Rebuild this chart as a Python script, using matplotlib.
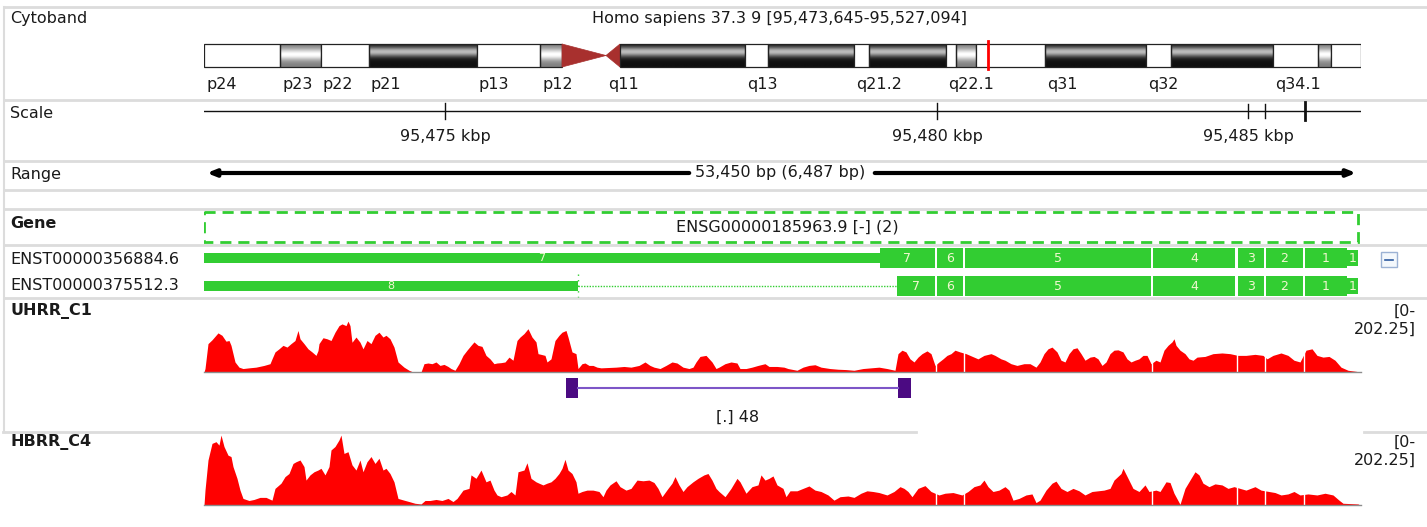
import numpy as np
import matplotlib
matplotlib.use("Agg")
import matplotlib.pyplot as plt
from matplotlib.patches import Rectangle, Polygon

W, H = 1427, 527
X0, XW = 204, 1157  # pixel column used by the tracks

# ---- data (positions are in view units along the track column) ----
title = "Homo sapiens 37.3 9 [95,473,645-95,527,094]"

band_names = ["p24", "p23", "p22", "p21", "p13", "p12", "p11", "q11", "q12", "q13",
              "q21.1", "q21.2", "q21.3", "q22.1", "q22.2", "q22.3", "q31", "q32",
              "q33", "q34.1", "q34.2", "q34.3"]
band_starts = [0, 76, 117, 165, 273, 336, 358, 402, 416, 541, 564, 650, 665, 742,
               752, 772, 841, 942, 967, 1069, 1114, 1127]
band_ends = [76, 117, 165, 273, 336, 358, 402, 416, 541, 564, 650, 665, 742, 752,
             772, 841, 942, 967, 1069, 1114, 1127, 1157]
band_stains = ["gneg", "gpos25", "gneg", "gpos100", "gneg", "gpos25", "acen", "acen",
               "gpos100", "gneg", "gpos100", "gneg", "gpos100", "gneg", "gpos25",
               "gneg", "gpos100", "gneg", "gpos100", "gneg", "gpos25", "gneg"]
shown_bands = ["p24", "p23", "p22", "p21", "p13", "p12", "q11", "q13", "q21.2",
               "q22.1", "q31", "q32", "q34.1"]
view_marker = 784

scale_ticks = [241, 733, 1044, 1061, 1101]
scale_labels = {241: "95,475 kbp", 733: "95,480 kbp", 1044: "95,485 kbp"}
range_text = "53,450 bp (6,487 bp)"
gene_name = "ENSG00000185963.9 [-] (2)"

tx_names = ["ENST00000356884.6", "ENST00000375512.3"]
tx1_exons = [(0, 731, "7"), (733, 759, "6"), (761, 947, "5"), (949, 1031, "4"),
             (1034, 1060, "3"), (1062, 1099, "2"), (1101, 1154, "1")]
tx1_cds = (676, 1143)
tx2_exons = [(0, 374, "8"), (693, 731, "7"), (733, 759, "6"), (761, 947, "5"),
             (949, 1031, "4"), (1034, 1060, "3"), (1062, 1099, "2"), (1101, 1154, "1")]
tx2_cds = (693, 1143)

cov_max = 202.25
uhrr_profile = [
    (0, 0), (1, 10), (4, 82), (8, 93), (14, 113), (18, 106), (22, 89), (25, 91), (27, 77),
    (29, 53), (31, 29), (35, 14), (39, 10), (45, 12), (52, 14), (60, 19), (66, 24), (68, 38),
    (71, 58), (75, 67), (79, 77), (83, 72), (87, 82), (91, 91), (94, 120), (96, 96),
    (100, 82), (104, 67), (108, 58), (112, 48), (114, 62), (115, 82), (119, 99), (123, 96),
    (127, 91), (131, 115), (135, 134), (138, 139), (142, 134), (144, 147), (146, 134),
    (148, 86), (152, 101), (156, 86), (159, 67), (163, 91), (167, 82), (171, 106),
    (175, 115), (179, 101), (182, 106), (186, 96), (190, 72), (194, 29), (200, 14),
    (205, 5), (209, 0), (217, 0), (220, 24), (224, 26), (228, 24), (232, 29), (236, 19),
    (240, 22), (244, 16), (247, 10), (251, 5), (255, 24), (259, 48), (263, 63), (267, 77),
    (270, 87), (274, 77), (278, 74), (282, 48), (286, 38), (290, 24), (293, 26), (297, 27),
    (301, 29), (305, 43), (309, 34), (313, 91), (316, 101), (320, 111), (324, 125),
    (328, 101), (332, 87), (334, 53), (337, 51), (341, 48), (343, 29), (347, 38), (351, 91),
    (355, 106), (358, 115), (362, 120), (364, 101), (368, 58), (372, 53), (374, 10),
    (378, 24), (381, 26), (385, 19), (389, 19), (393, 14), (397, 12), (412, 14), (420, 16),
    (427, 14), (435, 19), (441, 29), (446, 19), (450, 14), (456, 10), (462, 19), (468, 29),
    (473, 26), (479, 14), (485, 10), (489, 14), (492, 29), (496, 45), (502, 48), (508, 29),
    (512, 10), (515, 14), (521, 24), (527, 29), (533, 26), (536, 10), (542, 10), (548, 14),
    (554, 19), (561, 24), (565, 16), (573, 16), (580, 14), (584, 10), (593, 5), (599, 14),
    (605, 19), (611, 21), (617, 14), (626, 10), (634, 8), (642, 7), (650, 5), (659, 10),
    (667, 12), (675, 14), (683, 10), (691, 5), (694, 53), (698, 63), (702, 58), (706, 38),
    (710, 29), (714, 43), (718, 53), (723, 61), (727, 53), (731, 19), (735, 29), (739, 38),
    (743, 48), (747, 53), (751, 63), (756, 58), (762, 53), (766, 48), (770, 43), (774, 38),
    (780, 48), (787, 53), (791, 48), (797, 38), (801, 34), (807, 24), (813, 19), (820, 24),
    (826, 24), (832, 14), (836, 29), (840, 53), (844, 67), (848, 72), (853, 58), (857, 34),
    (861, 29), (865, 53), (869, 67), (873, 70), (877, 53), (881, 34), (886, 43), (890, 45),
    (894, 38), (898, 19), (902, 29), (906, 53), (910, 63), (914, 64), (919, 58), (923, 38),
    (927, 29), (931, 34), (935, 38), (939, 48), (943, 48), (947, 24), (952, 34), (956, 29),
    (960, 63), (964, 77), (968, 87), (970, 96), (972, 77), (976, 63), (981, 53), (985, 38),
    (989, 34), (993, 43), (1001, 45), (1009, 53), (1018, 55), (1026, 53), (1034, 48),
    (1042, 48), (1051, 51), (1059, 48), (1063, 38), (1069, 48), (1077, 55), (1084, 48),
    (1090, 34), (1096, 29), (1102, 63), (1108, 67), (1113, 48), (1119, 43), (1125, 45),
    (1131, 34), (1137, 14), (1144, 5), (1152, 2), (1156, 0),
]
hbrr_profile = [
    (0, 0), (1, 43), (4, 130), (8, 178), (12, 183), (15, 173), (17, 202), (20, 169),
    (24, 144), (27, 140), (29, 111), (33, 77), (36, 43), (39, 19), (45, 13), (50, 16),
    (56, 22), (62, 22), (68, 14), (71, 48), (77, 63), (81, 82), (85, 91), (89, 120),
    (92, 125), (96, 130), (100, 111), (102, 72), (106, 87), (110, 96), (114, 101),
    (117, 106), (121, 87), (125, 111), (127, 159), (131, 169), (135, 188), (137, 202),
    (140, 149), (144, 154), (148, 116), (152, 101), (156, 130), (159, 96), (163, 125),
    (167, 140), (171, 120), (175, 135), (179, 101), (182, 106), (186, 91), (190, 67),
    (194, 19), (200, 14), (205, 10), (211, 5), (217, 3), (221, 13), (226, 13), (232, 16),
    (238, 13), (244, 19), (249, 10), (253, 19), (259, 43), (265, 48), (267, 87), (272, 77),
    (277, 101), (282, 67), (286, 72), (290, 43), (293, 29), (297, 24), (303, 29), (307, 39),
    (311, 29), (314, 96), (320, 101), (323, 122), (327, 77), (332, 67), (335, 63),
    (339, 58), (343, 63), (347, 67), (351, 77), (355, 91), (358, 106), (361, 132),
    (364, 101), (368, 91), (372, 67), (374, 34), (378, 39), (383, 43), (389, 43), (395, 39),
    (399, 24), (402, 43), (406, 58), (412, 70), (416, 53), (422, 43), (427, 48), (433, 72),
    (439, 70), (445, 72), (450, 65), (454, 48), (458, 24), (464, 48), (468, 63), (471, 82),
    (475, 58), (479, 39), (483, 53), (489, 67), (494, 77), (500, 87), (504, 91), (508, 72),
    (512, 48), (515, 39), (521, 24), (527, 48), (533, 77), (536, 67), (542, 34), (548, 53),
    (554, 58), (557, 87), (561, 72), (565, 77), (569, 84), (573, 58), (579, 48), (582, 24),
    (586, 41), (593, 41), (599, 48), (605, 55), (611, 43), (617, 39), (624, 29), (630, 14),
    (636, 24), (644, 26), (650, 22), (657, 34), (663, 41), (669, 39), (675, 36), (683, 29),
    (690, 39), (696, 53), (700, 48), (704, 39), (708, 24), (714, 48), (721, 56), (727, 39),
    (735, 29), (741, 34), (749, 36), (758, 29), (764, 39), (770, 53), (776, 58), (780, 72),
    (784, 53), (789, 39), (795, 43), (801, 53), (805, 43), (809, 14), (815, 19), (822, 29),
    (828, 32), (832, 7), (836, 14), (842, 43), (848, 63), (852, 69), (857, 48), (863, 39),
    (869, 48), (875, 41), (881, 29), (888, 39), (894, 41), (900, 43), (906, 48), (910, 72),
    (917, 91), (919, 106), (924, 77), (929, 48), (935, 39), (941, 58), (945, 39), (952, 43),
    (956, 39), (962, 67), (966, 65), (970, 34), (976, 2), (981, 48), (987, 77), (991, 96),
    (995, 87), (999, 63), (1005, 53), (1011, 61), (1018, 58), (1024, 48), (1030, 53),
    (1036, 48), (1042, 43), (1051, 53), (1057, 43), (1065, 39), (1071, 36), (1077, 29),
    (1084, 32), (1090, 39), (1096, 29), (1104, 32), (1113, 29), (1121, 34), (1129, 29),
    (1135, 14), (1139, 5), (1154, 3), (1156, 0),
]
junc_start, junc_end, junc_count = 374, 694, 48

# ---- styles ----
plt.rcParams["font.family"] = "DejaVu Sans"
FS = 11.5
TXT = "#1a1a1a"
GREEN = "#32cd32"
SEP = "#dcdcdc"

fig = plt.figure(figsize=(W / 100, H / 100), dpi=100)
bg = fig.add_axes([0, 0, 1, 1])
bg.set_xlim(0, W)
bg.set_ylim(H, 0)
bg.axis("off")

gx = fig.add_axes([X0 / W, 0, XW / W, 1])
gx.set_xlim(0, XW)
gx.set_ylim(H, 0)
gx.axis("off")

# separators and left labels
for y in [7, 100, 161, 190, 209, 245, 298]:
    bg.plot([3, W], [y, y], color=SEP, lw=2, solid_capstyle="butt")
bg.plot([3, 916], [432, 432], color=SEP, lw=2)
bg.plot([1364, W], [432, 432], color=SEP, lw=2)
bg.plot([4, 4], [7, 432], color=SEP, lw=1.5)

for txt, y, bold in [("Cytoband", 19, False), ("Scale", 113, False), ("Range", 174, False),
                     ("Gene", 223, True), (tx_names[0], 259, False), (tx_names[1], 286, False),
                     ("UHRR_C1", 311, True), ("HBRR_C4", 442, True)]:
    bg.text(10, y, txt, fontsize=FS, color=TXT, va="center", ha="left",
            fontweight="bold" if bold else "normal")

# cytoband
bg.text(779, 19, title, fontsize=FS, color=TXT, ha="center", va="center")
top, bot = 44, 67
t = np.linspace(0, 1, 64)
grad = {
    "gpos100": 0.06 + 0.68 * np.exp(-((t - 0.33) / 0.22) ** 2),
    "gpos25": 0.5 + 0.5 * np.exp(-((t - 0.45) / 0.25) ** 2),
}
for name, s, e, stain in zip(band_names, band_starts, band_ends, band_stains):
    if stain == "acen":
        mid = (top + bot) / 2
        if name.startswith("p"):
            pts = [(s, top), (s, bot), (e, mid)]
        else:
            pts = [(e, top), (e, bot), (s, mid)]
        gx.add_patch(Polygon(pts, closed=True, facecolor="#a8302e", edgecolor="#a8302e", lw=0.5))
    elif stain == "gneg":
        gx.add_patch(Rectangle((s, top), e - s, bot - top, facecolor="white", edgecolor="#222", lw=0.9))
    else:
        img = np.tile(grad[stain][:, None], (1, 2))
        gx.imshow(img, cmap="gray", vmin=0, vmax=1, extent=(s, e, bot, top), aspect="auto",
                  interpolation="bilinear", origin="upper")
        gx.add_patch(Rectangle((s, top), e - s, bot - top, facecolor="none", edgecolor="#222", lw=0.9))
    if name in shown_bands:
        gx.text(s + 2, 84, name, fontsize=FS, color=TXT, ha="left", va="center")
gx.plot([view_marker, view_marker], [41, 69], color="#ff0000", lw=2)

# scale
gx.plot([0, XW], [111, 111], color="#111", lw=1)
for p in scale_ticks:
    half, lw = (8, 1) if p in (241, 733) else ((9, 2) if p == 1101 else (7, 1))
    gx.plot([p, p], [111 - half, 111 + half], color="#111", lw=lw)
    if p in scale_labels:
        gx.text(p, 137, scale_labels[p], fontsize=FS, color=TXT, ha="center", va="center")

# range
range_mid = 576
gx.text(range_mid, 173, range_text, fontsize=FS, color=TXT, ha="center", va="center")
gx.annotate("", xy=(0, 173), xytext=(range_mid - 88, 173),
            arrowprops=dict(arrowstyle="-|>,head_length=0.5,head_width=0.2", color="black", lw=3))
gx.annotate("", xy=(XW - 2, 173), xytext=(range_mid + 92, 173),
            arrowprops=dict(arrowstyle="-|>,head_length=0.5,head_width=0.2", color="black", lw=3))

# gene
gx.add_patch(Rectangle((0, 212), XW - 3, 30, facecolor="none", edgecolor=GREEN, lw=2,
                       linestyle=(0, (4, 2.5))))
gx.text(583, 227, gene_name, fontsize=FS, color=TXT, ha="center", va="center")


def draw_transcript(exons, cds, yc, intron=None):
    if intron is not None:
        gx.plot(intron, [yc, yc], color=GREEN, lw=1, linestyle=(0, (1, 1)))
        gx.plot([intron[0], intron[0]], [yc - 12, yc + 11], color=GREEN, lw=1, linestyle=(0, (1, 3)))
    for s, e, num in exons:
        parts = []
        if s < cds[0]:
            parts.append((s, min(e, cds[0]), 5))
        if e > cds[0] and s < cds[1]:
            parts.append((max(s, cds[0]), min(e, cds[1]), 10))
        if e > cds[1]:
            parts.append((max(s, cds[1]), e, 8))
        for a, b, hh in parts:
            gx.add_patch(Rectangle((a, yc - hh), b - a, 2 * hh, facecolor=GREEN, edgecolor="none"))
            gx.text((a + b) / 2, yc, num, fontsize=9 if hh > 5 else 8, color="#f2f7d0",
                    ha="center", va="center")


draw_transcript(tx1_exons, tx1_cds, 258)
draw_transcript(tx2_exons, tx2_cds, 286, intron=[tx2_exons[0][1], tx2_exons[1][0]])

# collapse button
bg.add_patch(Rectangle((1381, 252), 16, 15, facecolor="#f4f8fc", edgecolor="#9cb2d4", lw=1))
bg.plot([1385, 1393], [259.5, 259.5], color="#2d5aa0", lw=1.2)

# coverage tracks
boundaries = [(tx2_exons[i][1] + tx2_exons[i + 1][0]) / 2 for i in range(1, len(tx2_exons) - 1)]


def coverage(profile, top_px, bot_px, label_y):
    a = fig.add_axes([X0 / W, 1 - bot_px / H, XW / W, (bot_px - top_px) / H])
    a.set_xlim(0, XW)
    a.set_ylim(0, cov_max)
    a.axis("off")
    pos, val = np.array(profile, dtype=float).T
    a.fill_between(pos, 0, val, color="#ff0000", lw=0)
    for b in boundaries:
        a.plot([b, b], [0, cov_max], color="white", lw=1)
    a.plot([0, XW], [0, 0], color="#8c8c8c", lw=1, clip_on=False)
    bg.text(1416, label_y, "[0-", fontsize=FS, color=TXT, ha="right", va="center")
    bg.text(1416, label_y + 18, f"{cov_max:g}]", fontsize=FS, color=TXT, ha="right", va="center")
    return a


coverage(uhrr_profile, 302, 372, 311)
coverage(hbrr_profile, 435, 505, 442)

# junction in UHRR
gx.plot([junc_start, junc_end], [388, 388], color="#7d55c7", lw=1.5)
gx.add_patch(Rectangle((junc_start - 12, 378), 12, 20, facecolor="#4b0a82", edgecolor="none"))
gx.add_patch(Rectangle((junc_end, 378), 13, 20, facecolor="#4b0a82", edgecolor="none"))
gx.text((junc_start + junc_end) / 2, 417, f"[.] {junc_count}", fontsize=FS, color=TXT,
        ha="center", va="center")

fig.savefig("out.png", dpi=100)
